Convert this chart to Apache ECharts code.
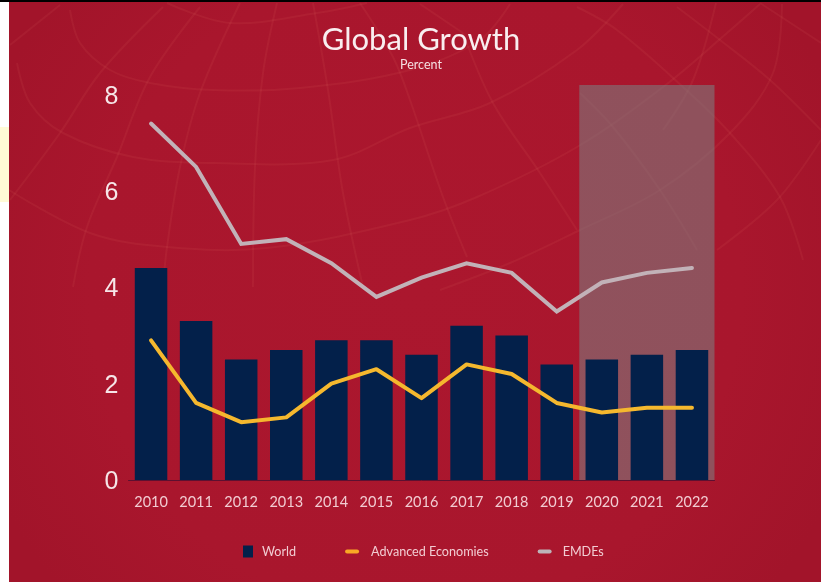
<!DOCTYPE html>
<html><head><meta charset="utf-8">
<style>html,body{margin:0;padding:0;background:#fff}#c{width:821px;height:582px}</style>
<script src="https://cdn.jsdelivr.net/npm/echarts@6/dist/echarts.min.js"></script>
</head><body><div id="c"></div>
<script>
const years = ['2010','2011','2012','2013','2014','2015','2016','2017','2018','2019','2020','2021','2022'];
const world = [4.4,3.3,2.5,2.7,2.9,2.9,2.6,3.2,3.0,2.4,2.5,2.6,2.7];
const advanced = [2.9,1.6,1.2,1.3,2.0,2.3,1.7,2.4,2.2,1.6,1.4,1.5,1.5];
const emdes = [7.4,6.5,4.9,5.0,4.5,3.8,4.2,4.5,4.3,3.5,4.1,4.3,4.4];
const forecastSpan = [10,13];   // band edges, in category slots: 2020 through 2022
const yTicks = {min:0, max:8.2, interval:2};

// decorative globe graticule in the background picture
const globeLines = [
 [[167,3],[230,23],[317,13],[367,3]],
 [[70,10],[80,43],[110,70],[150,83],[213,90],[300,88],[410,70],[480,40],[510,4]],
 [[17,63],[30,103],[63,133],[133,157],[213,163],[333,160],[410,128],[490,103],[577,50],[623,4]],
 [[9,190],[90,233],[167,247],[267,248],[410,220],[477,197],[577,147],[663,87],[727,33],[760,4]],
 [[716,3],[693,80],[663,130]],
 [[782,4],[773,73],[730,133],[660,190],[580,230],[510,263],[440,290]],
 [[717,250],[777,200],[821,140]],
 [[60,5],[10,45]],
 [[163,7],[100,73],[60,133],[10,200]],
 [[200,7],[150,77],[117,157],[87,227],[73,287]],
 [[240,3],[200,93],[180,167],[167,247],[163,287]],
 [[277,3],[263,73],[255,167],[253,287]],
 [[313,3],[328,90],[343,193],[363,287]],
 [[360,3],[393,57],[410,100],[443,197],[467,257]],
 [[463,33],[493,103],[540,173],[577,230]],
 [[420,4],[463,33]],
 [[577,7],[617,30],[683,87],[730,133],[780,197],[803,260]],
 [[580,93],[613,127],[660,190],[697,250]],
 [[677,7],[720,40],[770,80],[821,130]],
 [[760,3],[821,43]]
];

const chart = echarts.init(document.getElementById('c'), null, {renderer:'canvas'});
const background = [
 {type:'rect', z:-3, shape:{x:9,y:2,width:812,height:580},
  style:{fill:{type:'radial',x:0.5,y:0.5,r:0.8,colorStops:[{offset:0,color:'#ab172e'},{offset:0.7,color:'#a9162d'},{offset:1,color:'#a2142a'}]}}},
 {type:'rect', z:-3, shape:{x:0,y:0,width:821,height:2}, style:{fill:'#000'}},
 {type:'rect', z:-3, shape:{x:0,y:127,width:9,height:75}, style:{fill:'#fffbd6'}},
].concat(globeLines.map(p => ({
  type:'polyline', z:-2, shape:{points:p, smooth:0.35},
  style:{stroke:'rgba(255,150,130,0.07)', lineWidth:2, fill:null}
})));

chart.setOption({
  animation:false,
  backgroundColor:'#fff',
  textStyle:{fontFamily:'Lato'},
  graphic:{elements:background},
  title:[
   {text:'Global Growth', left:421, top:24, padding:0, textAlign:'center',
    textStyle:{color:'#f9eef0',fontSize:31,fontWeight:'normal',fontFamily:'Lato'}},
   {text:'Percent', left:421, top:58, padding:0, textAlign:'center',
    textStyle:{color:'#f5dfe2',fontSize:12.5,fontWeight:'normal',fontFamily:'Lato'}}
  ],
  grid:{left:128.5,right:106.5,top:85,bottom:102,containLabel:false},
  legend:{
    left:238, top:540, itemWidth:14, itemHeight:12, itemGap:49,
    textStyle:{color:'#f2ccd2',fontSize:12.6,fontFamily:'Lato'},
    data:[
      {name:'World', icon:'path://M0 0H10V12H0Z', textStyle:{padding:[0,0,0,2]}},
      {name:'Advanced Economies', icon:'path://M2 0H12A2 2 0 0 1 12 4H2A2 2 0 0 1 2 0Z', textStyle:{padding:[0,0,0,7]}},
      {name:'EMDEs', icon:'path://M2 0H12A2 2 0 0 1 12 4H2A2 2 0 0 1 2 0Z', textStyle:{padding:[0,0,0,6]}}
    ]
  },
  xAxis:[
   {type:'category',data:years,
    axisLine:{lineStyle:{color:'#5d1030',width:1}},axisTick:{show:false},
    axisLabel:{color:'#f2ccd2',fontSize:14.5,margin:15,fontFamily:'Lato',interval:0}},
   {type:'value',min:0,max:years.length,show:false}
  ],
  yAxis:{type:'value',min:yTicks.min,max:yTicks.max,interval:yTicks.interval,
    axisLine:{show:false},axisTick:{show:false},splitLine:{show:false},
    axisLabel:{margin:10,showMaxLabel:false,formatter:'{n|{value}}',
      rich:{n:{color:'#f6e6e8',fontSize:25,fontFamily:'Liberation Sans',padding:[4,0,0,0]}}}},
  series:[
   {name:'Forecast',type:'line',xAxisIndex:1,data:[],z:1,silent:true,symbol:'none',
    markArea:{silent:true,itemStyle:{color:'rgba(123,128,130,0.56)'},
      data:[[{xAxis:forecastSpan[0],yAxis:yTicks.min},{xAxis:forecastSpan[1],yAxis:yTicks.max}]]}},
   {name:'World',type:'bar',data:world,barWidth:32.5,z:2,itemStyle:{color:'#03204a'}},
   {name:'Advanced Economies',type:'line',data:advanced,z:4,symbol:'none',
    lineStyle:{color:'#f5b82e',width:4,cap:'round',join:'round'},itemStyle:{color:'#f9a825'}},
   {name:'EMDEs',type:'line',data:emdes,z:3,symbol:'none',
    lineStyle:{color:'#c2b2b8',width:4,cap:'round',join:'miter'},itemStyle:{color:'#bdb3b8'}}
  ]
});
</script></body></html>
